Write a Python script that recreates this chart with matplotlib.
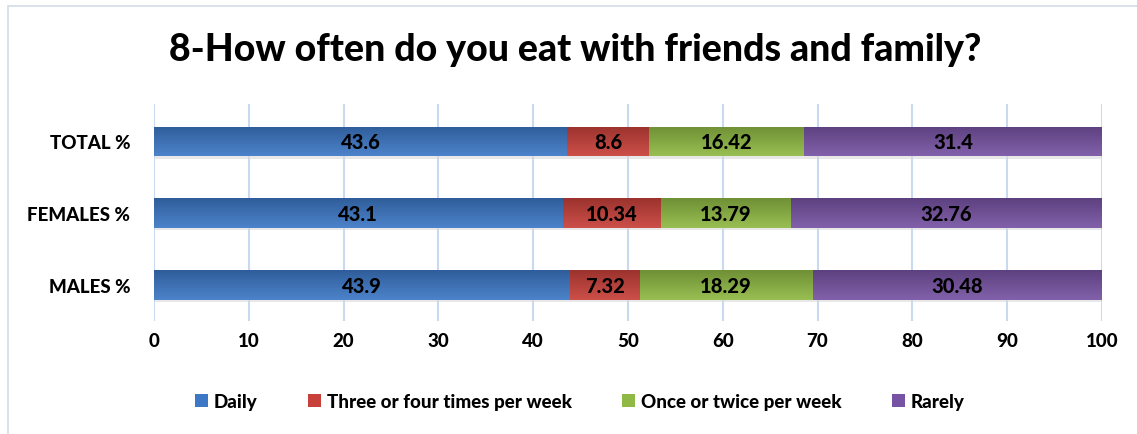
import numpy as np
import matplotlib
matplotlib.use("Agg")
import matplotlib.pyplot as plt
from matplotlib.patches import Rectangle, Patch
from matplotlib.colors import to_rgb

plt.rcParams['font.family'] = ['Lato', 'DejaVu Sans']

groups = ["MALES %", "FEMALES %", "TOTAL %"]
series = ["Daily", "Three or four times per week", "Once or twice per week", "Rarely"]
daily = [43.9, 43.1, 43.6]
three_four = [7.32, 10.34, 8.6]
once_twice = [18.29, 13.79, 16.42]
rarely = [30.48, 32.76, 31.4]
labels_daily = ["43.9", "43.1", "43.6"]
labels_three_four = ["7.32", "10.34", "8.6"]
labels_once_twice = ["18.29", "13.79", "16.42"]
labels_rarely = ["30.48", "32.76", "31.4"]

colors = ["#3d78c6", "#c8403a", "#8fb944", "#7753a3"]
W = 900


def shade(c, f):
    r, g, b = to_rgb(c)
    if f >= 0:
        return (r + (1 - r) * f, g + (1 - g) * f, b + (1 - b) * f)
    return (r * (1 + f), g * (1 + f), b * (1 + f))


fig = plt.figure(figsize=(11.37, 4.35), dpi=100)
ax = fig.add_axes([0.1354, 0.2598, 0.8338, 0.4988])

# light frame around the chart area
fig.patches.append(Rectangle((0.007, -0.02), 1.02, 1.004, transform=fig.transFigure,
                             fill=False, edgecolor="#d4dbe8", linewidth=1.2, zorder=0))

y = np.arange(len(groups))
h = 0.41
data = [daily, three_four, once_twice, rarely]
texts = [labels_daily, labels_three_four, labels_once_twice, labels_rarely]
left = np.zeros(len(groups))
for vals, labs, col, name in zip(data, texts, colors, series):
    vals = np.array(vals)
    # soft drop shadow
    ax.barh(y - 0.035, vals, left=left, height=h, color="#d9d9d9", alpha=0.6,
            zorder=1, linewidth=0)
    bars = ax.barh(y, vals, left=left, height=h, color=col, label=name,
                   zorder=2, linewidth=0)
    for b in bars:
        x0, y0 = b.get_x(), b.get_y()
        w, hh = b.get_width(), b.get_height()
        grad = np.linspace(0, 1, 32)[:, None]
        top, bot = np.array(shade(col, 0.08)), np.array(shade(col, -0.22))
        img = top[None, None, :] * (1 - grad[..., None]) + bot[None, None, :] * grad[..., None]
        im = ax.imshow(img, extent=[x0, x0 + w, y0 + hh, y0], aspect="auto",
                       zorder=3, interpolation="bilinear")
        im.set_clip_path(b)
    for yi, (l, v, t) in enumerate(zip(left, vals, labs)):
        ax.text(l + v / 2, yi, t, ha="center", va="center", fontsize=14.5,
                fontweight=W, color="black", zorder=4)
    left += vals

ax.set_xlim(0, 100)
ax.set_ylim(-0.5, 2.52)
ax.set_xticks(np.arange(0, 101, 10))
ax.set_yticks(y)
ax.set_yticklabels(groups)
ax.tick_params(axis="both", length=0, labelsize=13.5, pad=8)
ax.tick_params(axis="y", pad=17)
for lab in ax.get_xticklabels() + ax.get_yticklabels():
    lab.set_fontweight(W)
ax.grid(axis="x", color="#c9daf0", linewidth=1.5, zorder=0)
ax.set_axisbelow(True)
for s in ax.spines.values():
    s.set_visible(False)

fig.text(0.506, 0.885, "8-How often do you eat with friends and family?",
         ha="center", va="center", fontsize=27, fontweight=W)

handles = [Patch(facecolor=c, label=s) for c, s in zip(colors, series)]
fig.legend(handles=handles, loc="center", bbox_to_anchor=(0.51, 0.075), ncol=4,
           frameon=False, prop={"size": 13.5, "weight": W}, handlelength=0.7,
           handleheight=0.7, handletextpad=0.3, columnspacing=2.7)

fig.savefig("out.png", dpi=100)
